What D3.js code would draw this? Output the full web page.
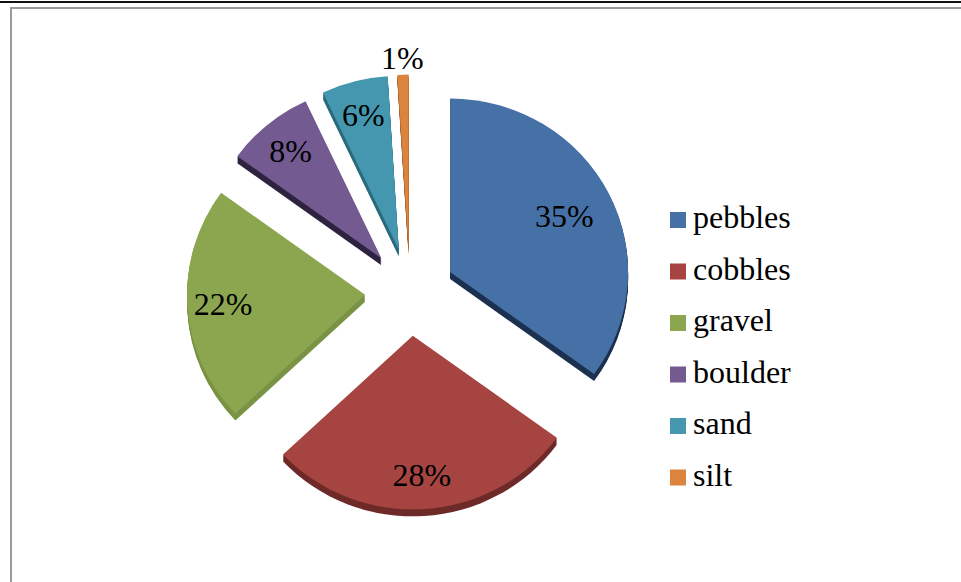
<!DOCTYPE html>
<html>
<head>
<meta charset="utf-8">
<script src="https://cdn.jsdelivr.net/npm/d3@7"></script>
<style>
  body { margin: 0; background: #fff; }
  text { font-family: "Liberation Serif", "Times New Roman", serif; fill: #000; }
</style>
</head>
<body>
<div id="chart"></div>
<script>
// data
var categories = ['pebbles', 'cobbles', 'gravel', 'boulder', 'sand', 'silt'];
var values = [35, 28, 22, 8, 6, 1];
var labels = ['35%', '28%', '22%', '8%', '6%', '1%'];

// styling
var topColors = ['#4671a6', '#a54441', '#8ca650', '#735a91', '#4497ae', '#da843e'];
var sideColors = ['#1d3250', '#6e2b29', '#7a9345', '#2f2440', '#2b6b7c', '#a35e29'];

var width = 961, height = 582;
var cx = 410, cy = 292, radius = 178, tilt = 0.975;
var explode = 45, depth = 7;

var svg = d3.select('#chart').append('svg')
  .attr('width', width)
  .attr('height', height);

svg.append('rect')
  .attr('width', width)
  .attr('height', height)
  .attr('fill', '#fff');

// page edge and chart frame
svg.append('rect')
  .attr('x', 0).attr('y', 1)
  .attr('width', width).attr('height', 2)
  .attr('fill', '#111');
svg.append('path')
  .attr('d', 'M11,' + height + 'V8H' + width)
  .attr('fill', 'none')
  .attr('stroke', '#9a9a9a')
  .attr('stroke-width', 2);

var pie = d3.pie().sort(null).value(function(d) { return d; });
var arcs = pie(values);
var arc = d3.arc().innerRadius(0).outerRadius(radius);

var plot = svg.append('g')
  .attr('transform', 'translate(' + cx + ',' + cy + ') scale(1,' + tilt + ')');

function offset(d) {
  var mid = (d.startAngle + d.endAngle) / 2;
  return [Math.sin(mid) * explode, -Math.cos(mid) * explode];
}

var slices = plot.selectAll('g.slice')
  .data(arcs)
  .enter().append('g')
  .attr('class', 'slice')
  .attr('transform', function(d) {
    var o = offset(d);
    return 'translate(' + o[0] + ',' + o[1] + ')';
  });

// side walls: stack copies of the slice downwards
d3.range(depth, 0, -1).forEach(function(i) {
  slices.append('path')
    .attr('d', arc)
    .attr('transform', 'translate(0,' + (i / tilt) + ')')
    .attr('fill', function(d) { return sideColors[d.index]; });
});

slices.append('path')
  .attr('class', 'top')
  .attr('d', arc)
  .attr('fill', function(d) { return topColors[d.index]; });

// labels: inside the slice, small slices outside
function labelPos(d) {
  var mid = (d.startAngle + d.endAngle) / 2;
  var f = d.value < 3 ? 1.1 : (d.value > 30 ? 0.72 : 0.8);
  var o = offset(d);
  return [cx + o[0] + Math.sin(mid) * radius * f,
          cy + (o[1] - Math.cos(mid) * radius * f) * tilt];
}

svg.selectAll('text.label')
  .data(arcs)
  .enter().append('text')
  .attr('class', 'label')
  .attr('x', function(d) { return labelPos(d)[0]; })
  .attr('y', function(d) { return labelPos(d)[1]; })
  .attr('dy', '0.35em')
  .attr('text-anchor', 'middle')
  .attr('font-size', 32)
  .text(function(d) { return labels[d.index]; });

// legend
var legend = svg.append('g')
  .attr('transform', 'translate(670,228)');
var items = legend.selectAll('g')
  .data(categories)
  .enter().append('g')
  .attr('transform', function(d, i) { return 'translate(0,' + (i * 51.5) + ')'; });
items.append('rect')
  .attr('x', 0).attr('y', -16)
  .attr('width', 16).attr('height', 16)
  .attr('fill', function(d, i) { return topColors[i]; });
items.append('text')
  .attr('x', 23).attr('y', 0)
  .attr('font-size', 32)
  .text(function(d) { return d; });
</script>
</body>
</html>
